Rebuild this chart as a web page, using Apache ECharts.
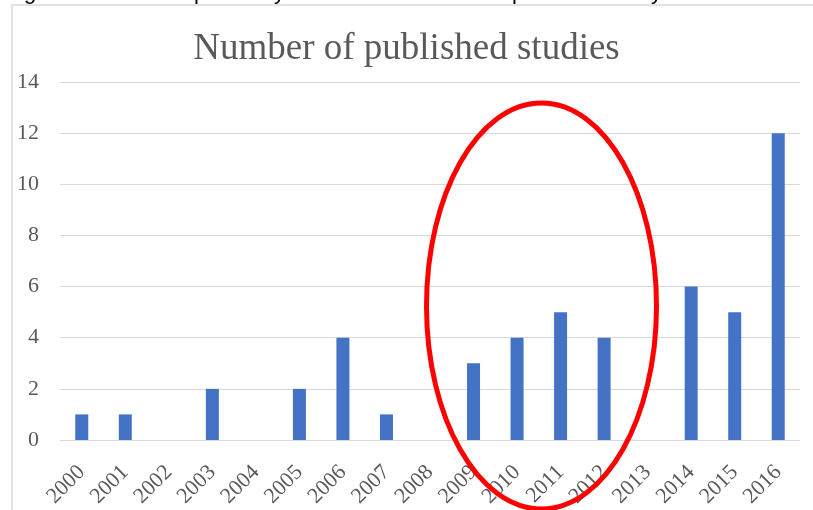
<!DOCTYPE html>
<html>
<head>
<meta charset="utf-8">
<style>
  html, body { margin: 0; padding: 0; background: #ffffff; }
  #chart { width: 813px; height: 510px; }
</style>
<script src="https://cdn.jsdelivr.net/npm/echarts@6/dist/echarts.min.js"></script>
</head>
<body>
<div id="chart"></div>
<script>
// Publication years and number of studies per year
const years = ['2000', '2001', '2002', '2003', '2004', '2005', '2006', '2007', '2008',
               '2009', '2010', '2011', '2012', '2013', '2014', '2015', '2016'];
const studies = [1, 1, 0, 2, 0, 2, 4, 1, 0, 3, 4, 5, 4, 0, 6, 5, 12];
const yTicks = { min: 0, max: 14, step: 2 };

const serif = '"Liberation Serif", "Times New Roman", serif';
const textGrey = '#595959';

const chart = echarts.init(document.getElementById('chart'), null, { renderer: 'canvas' });

// descenders of the caption line above the chart frame (cut off by the page edge)
const captionBits = [
  { ch: 'g', x: 24 }, { ch: 'p', x: 194 }, { ch: 'y', x: 274 },
  { ch: 'p', x: 512 }, { ch: 'y', x: 651 }
];

chart.setOption({
  animation: false,
  backgroundColor: '#ffffff',
  title: {
    text: 'Number of published studies',
    left: 'center',
    top: 26,
    textStyle: { fontFamily: serif, fontSize: 37, fontWeight: 'normal', color: textGrey }
  },
  grid: { left: 60, right: 13, top: 82, bottom: 68, containLabel: false },
  xAxis: {
    type: 'category',
    data: years,
    axisLine: { show: true, lineStyle: { color: '#d9d9d9', width: 1 } },
    axisTick: { show: false },
    axisLabel: {
      rotate: 45,
      margin: 29,
      interval: 0,
      fontFamily: serif,
      fontSize: 22,
      color: textGrey
    }
  },
  yAxis: {
    type: 'value',
    min: yTicks.min,
    max: yTicks.max,
    interval: yTicks.step,
    axisLine: { show: false },
    axisTick: { show: false },
    splitLine: { lineStyle: { color: '#d9d9d9', width: 1 } },
    axisLabel: { margin: 21, fontFamily: serif, fontSize: 22, color: textGrey }
  },
  series: [{
    type: 'bar',
    data: studies,
    barWidth: 13,
    itemStyle: { color: '#4472c4' }
  }],
  graphic: [
    // chart frame
    {
      type: 'rect',
      shape: { x: 12, y: 5, width: 830, height: 540 },
      style: { fill: 'none', stroke: '#d9d9d9', lineWidth: 1.5 },
      silent: true,
      z: -1
    },
    ...captionBits.map(b => ({
      type: 'text',
      x: b.x,
      y: 4,
      style: {
        text: b.ch,
        font: '22px "Liberation Sans", Arial, sans-serif',
        fill: '#000000',
        textVerticalAlign: 'bottom'
      },
      silent: true
    })),
    // red highlight ring around 2009-2012
    {
      type: 'ellipse',
      shape: { cx: 541.5, cy: 306, rx: 115, ry: 203 },
      style: { fill: 'none', stroke: '#ff0000', lineWidth: 5 },
      silent: true,
      z: 100
    }
  ]
});
</script>
</body>
</html>
